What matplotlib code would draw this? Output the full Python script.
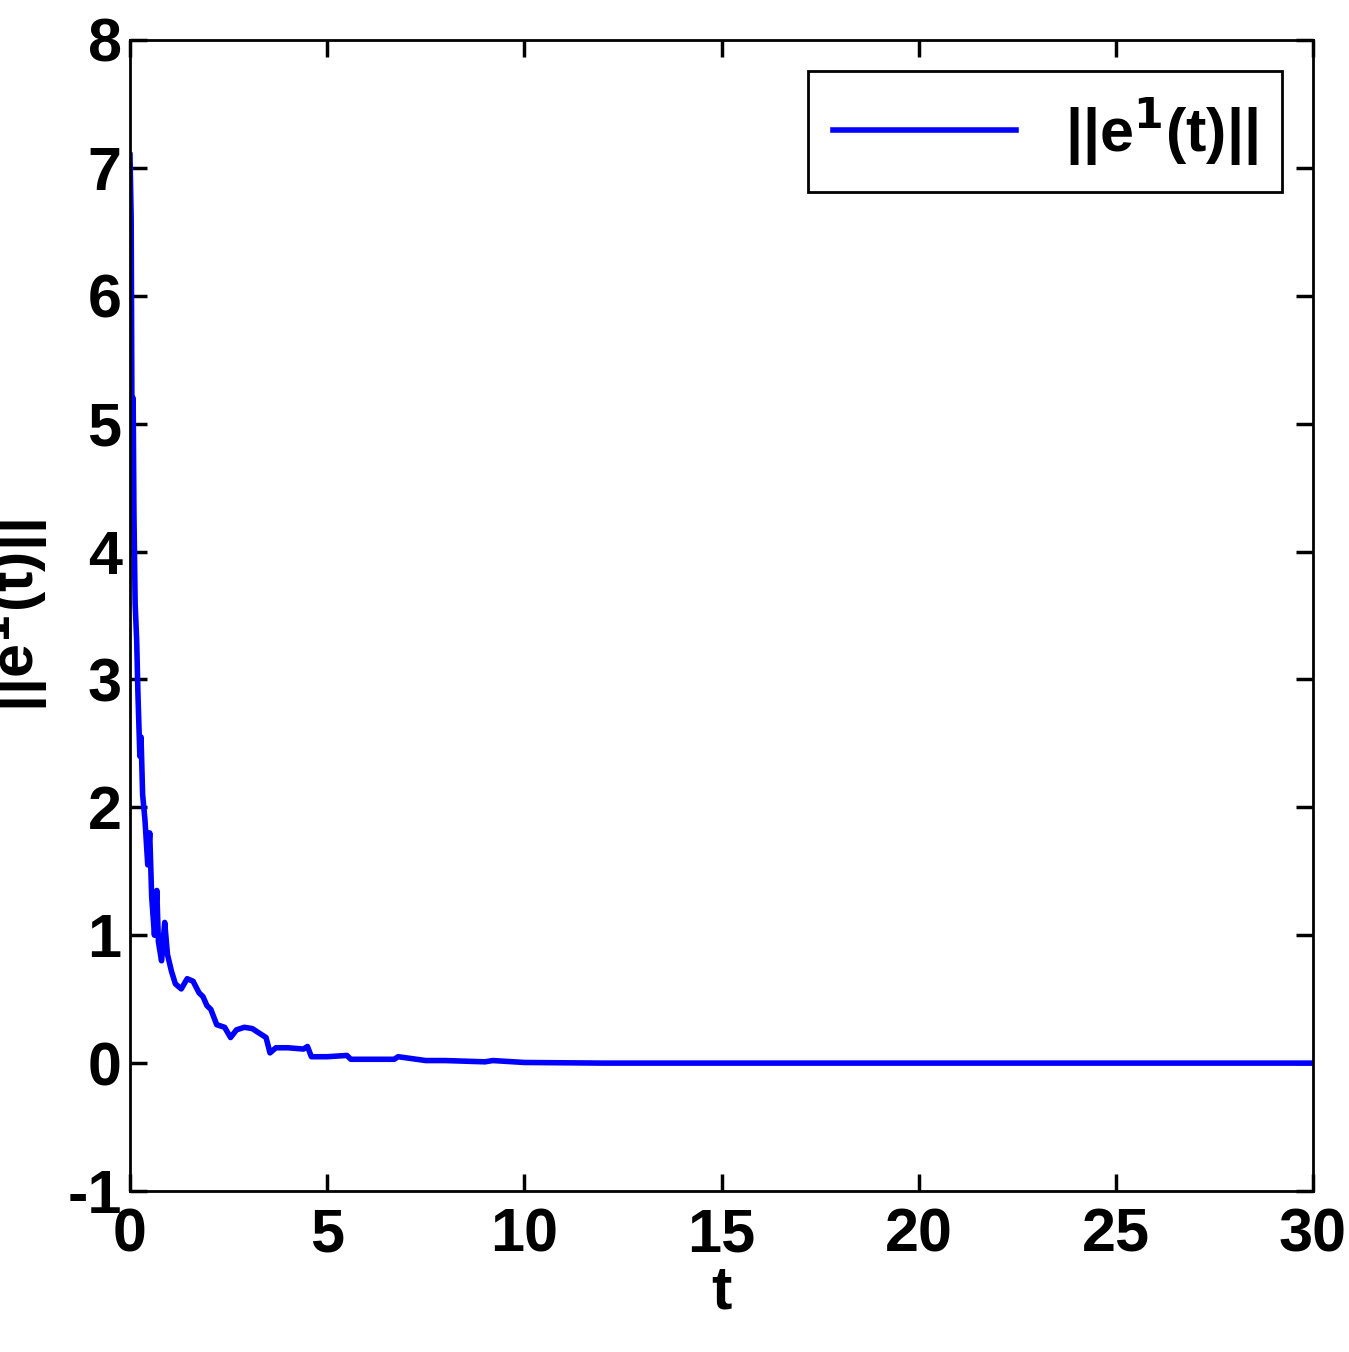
import matplotlib
matplotlib.use("Agg")
import matplotlib.pyplot as plt

t = [0, 0.03, 0.06, 0.08, 0.1, 0.13, 0.17, 0.2, 0.25, 0.28, 0.32, 0.38, 0.45, 0.5, 0.55, 0.62, 0.68, 0.72,
     0.8, 0.88, 0.95, 1.05, 1.15, 1.3, 1.45, 1.6, 1.75, 1.85, 1.95, 2.05, 2.2, 2.4, 2.55, 2.7, 2.9, 3.1,
     3.3, 3.45, 3.55, 3.7, 4.0, 4.4, 4.5, 4.6, 5.0, 5.5, 5.6, 6.0, 6.7, 6.8, 7.5, 8.0, 9.0, 9.2, 10, 12, 15, 20, 25, 30]
e = [7.1, 6.6, 4.2, 5.2, 4.3, 3.6, 3.3, 2.9, 2.4, 2.55, 2.1, 1.9, 1.55, 1.8, 1.3, 1.0, 1.35, 0.95,
     0.8, 1.1, 0.85, 0.72, 0.62, 0.58, 0.66, 0.64, 0.55, 0.52, 0.45, 0.42, 0.3, 0.28, 0.2, 0.26, 0.28, 0.27,
     0.23, 0.2, 0.08, 0.12, 0.12, 0.11, 0.13, 0.05, 0.05, 0.06, 0.03, 0.03, 0.03, 0.05, 0.02, 0.02, 0.01, 0.02, 0.005, 0.0, 0.0, 0.0, 0.0, 0.0]

plt.rcParams['font.family'] = ['Liberation Sans Narrow', 'Liberation Sans', 'DejaVu Sans']
plt.rcParams['font.weight'] = 'bold'
plt.rcParams['mathtext.fontset'] = 'custom'
plt.rcParams['mathtext.rm'] = 'Liberation Sans Narrow:bold'
plt.rcParams['mathtext.it'] = 'Liberation Sans Narrow:bold'
plt.rcParams['mathtext.bf'] = 'Liberation Sans Narrow:bold'
plt.rcParams['axes.unicode_minus'] = False

fig = plt.figure(figsize=(13.49, 13.52), dpi=100)
ax = fig.add_axes([130/1349, 1-1191/1352, (1313-130)/1349, (1191-40)/1352])
ax.plot(t, e, color='#0000ff', lw=4, label=r'||e$^{\mathrm{1}}$(t)||')
ax.set_xlim(0, 30); ax.set_ylim(-1, 8)
ax.set_xticks(range(0, 31, 5)); ax.set_yticks(range(-1, 9))
ax.tick_params(direction='in', length=12, width=2.5, labelsize=44, top=True, right=True, pad=12)
ax.tick_params(axis='y', pad=6)
for s in ax.spines.values(): s.set_linewidth(2)
ax.set_xlabel('t', fontsize=44, fontweight='bold', labelpad=0)
ax.set_ylabel(r'||e$^{\mathrm{1}}$(t)||', fontsize=44, fontweight='bold', labelpad=12)
leg = ax.legend(loc='upper right', fontsize=44, fancybox=False, edgecolor='black', handlelength=3,
                framealpha=1, borderaxespad=0.5)
leg.get_frame().set_linewidth(2)
fig.savefig('out.png', dpi=100)
